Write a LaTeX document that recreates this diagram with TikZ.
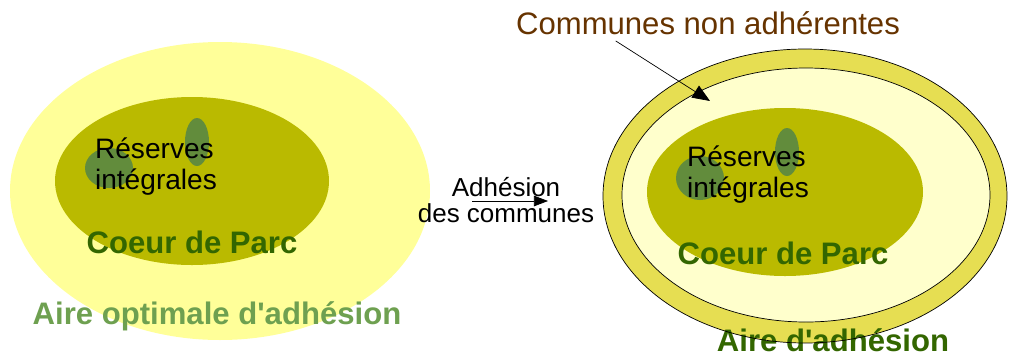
\documentclass[tikz,border=0pt]{standalone}
\usepackage{fontspec}
\setmainfont{Liberation Sans}
\usepackage{tikz}
\usetikzlibrary{positioning}
\usetikzlibrary{arrows.meta}

\definecolor{aireopt}{RGB}{255,255,153}
\definecolor{aireadh}{RGB}{230,222,82}
\definecolor{nonadh}{RGB}{255,255,204}
\definecolor{coeur}{RGB}{186,186,0}
\definecolor{reserve}{RGB}{98,140,60}
\definecolor{vertfonce}{RGB}{51,102,0}
\definecolor{vertclair}{RGB}{110,160,80}
\definecolor{brun}{RGB}{102,51,0}

\tikzset{
  titre/.style={inner sep=0pt,font=\fontsize{17.7}{20}\selectfont\bfseries},
  resv/.style={inner sep=0pt,align=left,font=\fontsize{16}{17.6}\selectfont},
  legende/.style={inner sep=0pt,align=center,font=\fontsize{14.8}{14.8}\selectfont},
}

\begin{document}
\begin{tikzpicture}[x=0.02cm,y=-0.02cm]
        \useasboundingbox (0,0) rectangle (1009,356);
        % situation initiale
        \fill[aireopt] (220,191) ellipse [x radius=210,y radius=149];
        \fill[coeur] (192,181) ellipse [x radius=137,y radius=84];
        \fill[reserve] (109,168) ellipse [x radius=24,y radius=20];
        \fill[reserve] (197,142) ellipse [x radius=12,y radius=24];
        \node[resv] (resA) at (156,167) {Réserves\\intégrales};
        \node[titre,text=vertfonce] (coeurA) at (192,242) {Coeur de Parc};
        \node[titre,text=vertclair] (aireA) at (217,316) {Aire optimale d\textquotesingle adhésion};

        % apres adhesion
        \fill[aireadh] (805,196) ellipse [x radius=202,y radius=147];
        \fill[nonadh] (806,195) ellipse [x radius=184,y radius=127];
        \draw[thin] (806,195) ellipse [x radius=184,y radius=127];
        \fill[coeur] (785,192) ellipse [x radius=138,y radius=84];
        \fill[reserve] (700,178) ellipse [x radius=24,y radius=22];
        \fill[reserve] (787,152) ellipse [x radius=12,y radius=24];
        \node[resv] (resB) at (748,175) {Réserves\\intégrales};
        \node[titre,text=vertfonce] (coeurB) at (783,253) {Coeur de Parc};
        \node[titre,text=vertfonce] (aireB) at (833,340) {Aire d\textquotesingle adhésion};
        \draw[thin] (805,196) ellipse [x radius=202,y radius=147];

        \node[titre,font=\fontsize{17.7}{20}\selectfont,text=brun] (nonB) at (708,23) {Communes non adhérentes};
        \coordinate (pointe) at (710,101);
        \draw[-{Triangle[length=10pt,width=8pt]}] (nonB.south west) ++(100,6) coordinate (depart) -- (pointe);

        % passage
        \node[legende] (adh) at (506,200) {Adhésion\\des communes};
        \coordinate (flecheA) at (472,201);
        \coordinate (flecheB) at (548,201);
        \draw[-{Triangle[length=8pt,width=6pt]}] (flecheA) -- (flecheB);
      \end{tikzpicture}
\end{document}
